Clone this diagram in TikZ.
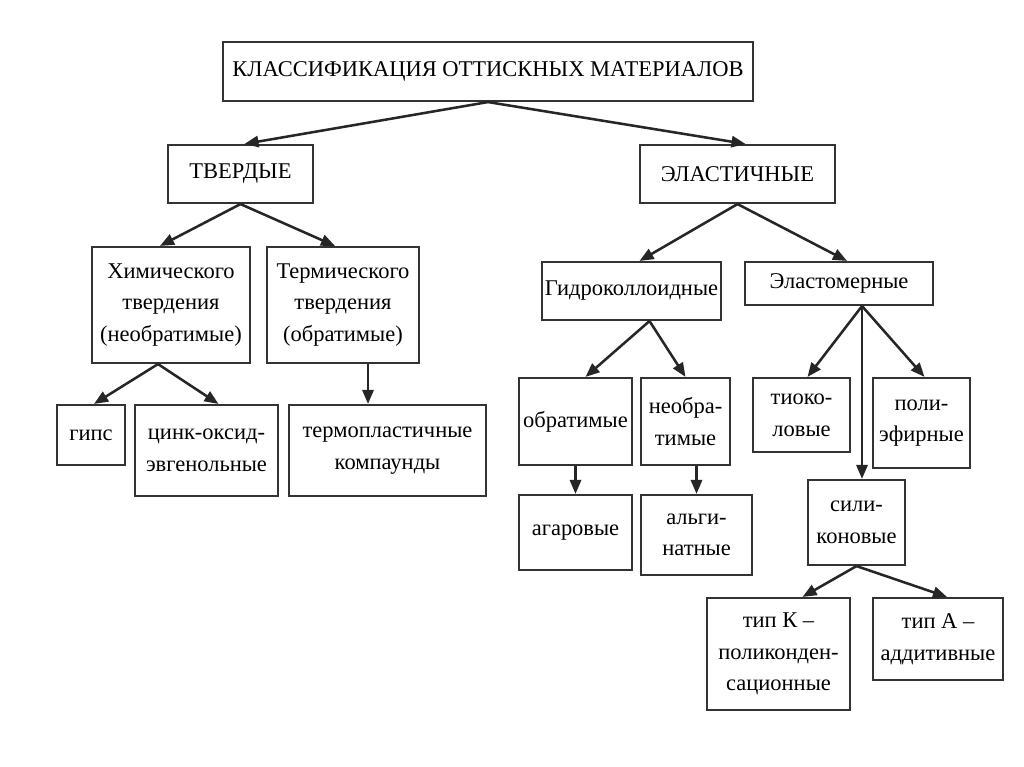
\documentclass[tikz,border=0pt]{standalone}
\usepackage{fontspec}
\setmainfont{Liberation Serif}
\usetikzlibrary{arrows.meta,positioning,calc}

\begin{document}
\begin{tikzpicture}[
    x=0.025cm, y=-0.025cm,
    box/.style={draw=black!80, line width=1.5pt, align=center, inner sep=2pt,
        font=\fontsize{16}{22.5}\selectfont},
    arr/.style={line width=1.8pt, black!85, -{Triangle[length=10pt,width=8pt]}}
]
\useasboundingbox (0,0) rectangle (1024,767);

% level 0 and 1
\node[box, minimum width=13.225cm, minimum height=1.475cm] (top) at (488,71.5) {КЛАССИФИКАЦИЯ ОТТИСКНЫХ МАТЕРИАЛОВ};
\node[box, minimum width=3.625cm, minimum height=1.45cm] (tv) at (240.5,174) {ТВЕРДЫЕ};
\node[box, minimum width=4.875cm, minimum height=1.45cm] (el) at (737.5,174) {ЭЛАСТИЧНЫЕ};

% solid branch
\node[box, minimum width=3.95cm, minimum height=2.9cm] (chem) at (171,305) {Химического\\твердения\\(необратимые)};
\node[box, minimum width=3.8cm, minimum height=2.9cm] (term) at (343,305) {Термического\\твердения\\(обратимые)};
\node[box, minimum width=1.7cm, minimum height=1.5cm] (gips) at (91,435) {гипс};
\node[box, minimum width=3.575cm, minimum height=2.275cm] (zinc) at (206.5,450.5) {цинк-оксид-\\эвгенольные};
\node[box, minimum width=4.925cm, minimum height=2.275cm] (tpk) at (387.5,450.5) {термопластичные\\компаунды};

% elastic branch
\node[box, minimum width=4.425cm, minimum height=1.45cm] (gidro) at (631.5,291) {Гидроколлоидные};
\node[box, minimum width=4.7cm, minimum height=1.075cm] (elast) at (839,283.5) {Эластомерные};
\node[box, minimum width=2.825cm, minimum height=2.175cm] (obr) at (575.5,421.5) {обратимые};
\node[box, minimum width=2.225cm, minimum height=2.175cm] (neobr) at (685.5,421.5) {необра-\\тимые};
\node[box, minimum width=2.825cm, minimum height=1.875cm] (agar) at (575.5,532.5) {агаровые};
\node[box, minimum width=2.775cm, minimum height=2.0cm] (alg) at (696.5,535) {альги-\\натные};
\node[box, minimum width=2.425cm, minimum height=1.85cm] (tiok) at (801.5,415) {тиоко-\\ловые};
\node[box, minimum width=2.425cm, minimum height=2.25cm] (poli) at (921.5,423) {поли-\\эфирные};
\node[box, minimum width=2.425cm, minimum height=2.125cm] (sil) at (856.5,522.5) {сили-\\коновые};
\node[box, minimum width=3.575cm, minimum height=2.8cm] (tipK) at (778.5,654) {тип К –\\поликонден-\\сационные};
\node[box, minimum width=3.25cm, minimum height=2.05cm] (tipA) at (938,639) {тип А –\\аддитивные};

% connectors
\draw[arr] (top.south) -- ([xshift=0.1cm]tv.north);
\draw[arr] (top.south) -- ([xshift=0.2cm]el.north);
\draw[arr] (tv.south) -- ([xshift=-0.275cm]chem.north);
\draw[arr] (tv.south) -- ([xshift=-0.2cm]term.north);
\draw[arr] ([xshift=-0.325cm]chem.south) -- ([xshift=0.075cm]gips.north);
\draw[arr] ([xshift=-0.325cm]chem.south) -- ([xshift=0.3cm]zinc.north);
\draw[arr] ([xshift=0.625cm]term.south) -- ([xshift=0.625cm]term.south |- tpk.north);
\draw[arr] (el.south) -- ([xshift=0.2cm]gidro.north);
\draw[arr] (el.south) -- ([xshift=0.2cm]elast.north);
\draw[arr] ([xshift=0.45cm]gidro.south) -- ([xshift=0.25cm]obr.north);
\draw[arr] ([xshift=0.45cm]gidro.south) -- (neobr.north);
\draw[arr] (obr.south) -- (agar.north);
\draw[arr] ([xshift=0.275cm]neobr.south) -- ([xshift=0.275cm]neobr.south |- alg.north);
\draw[arr] ([xshift=0.575cm]elast.south) -- ([xshift=0.15cm]tiok.north);
\draw[arr] ([xshift=0.575cm]elast.south) -- ([xshift=0.075cm]poli.north);
\draw[arr] ([xshift=0.575cm]elast.south) -- ([xshift=0.575cm]elast.south |- sil.north);
\draw[arr] (sil.south) -- ([xshift=0.6cm]tipK.north);
\draw[arr] (sil.south) -- ([xshift=0.225cm]tipA.north);
\end{tikzpicture}
\end{document}
